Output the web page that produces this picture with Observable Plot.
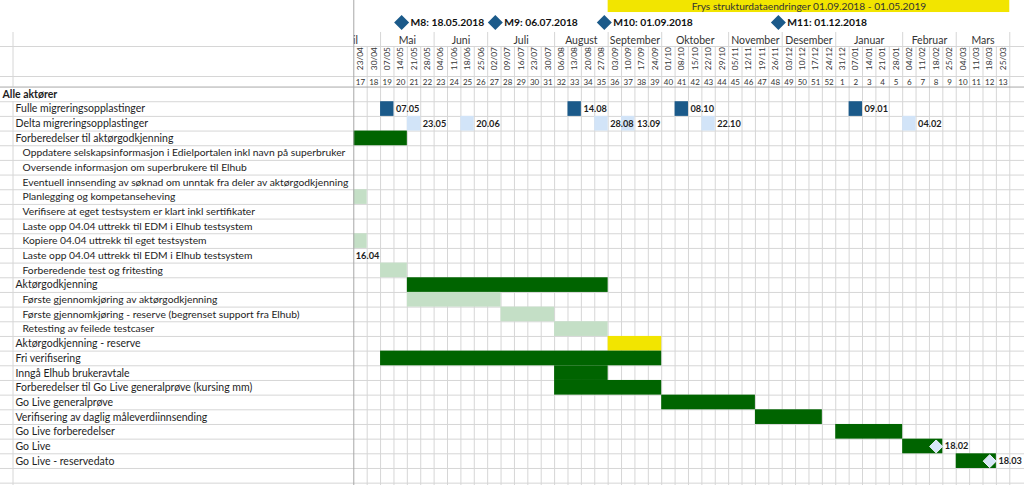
<!DOCTYPE html>
<html><head><meta charset="utf-8">
<script src="https://cdn.jsdelivr.net/npm/d3@7"></script>
<script src="https://cdn.jsdelivr.net/npm/@observablehq/plot@0.6"></script>
<style>html,body{margin:0;padding:0;background:#fff;overflow:hidden} svg{display:block}</style>
</head><body><div id="chart"></div>
<script>
// ---------- DATA ----------
const weekDates = ["23/04","30/04","07/05","14/05","21/05","28/05","04/06","11/06","18/06","25/06",
  "02/07","09/07","16/07","23/07","30/07","06/08","13/08","20/08","27/08","03/09","10/09","17/09","24/09",
  "01/10","08/10","15/10","22/10","29/10","05/11","12/11","19/11","26/11","03/12","10/12","17/12","24/12",
  "31/12","07/01","14/01","21/01","28/01","04/02","11/02","18/02","25/02","04/03","11/03","18/03","25/03"];
const weekNumbers = [17,18,19,20,21,22,23,24,25,26,27,28,29,30,31,32,33,34,35,36,37,38,39,40,41,42,43,44,45,46,47,48,49,50,51,52,1,2,3,4,5,6,7,8,9,10,11,12,13];
const monthNames = ["April","Mai","Juni","Juli","August","September","Oktober","November","Desember","Januar","Februar","Mars"];
const monthWeeks = [5,4,4,5,4,4,5,4,4,5,4,4];   // weeks per month, April starts 3 weeks before the first column
const firstMonday = "2018-04-23";

const taskNames = [
  "Alle aktører",
  "Fulle migreringsopplastinger",
  "Delta migreringsopplastinger",
  "Forberedelser til aktørgodkjenning",
  "Oppdatere selskapsinformasjon i Edielportalen inkl navn på superbruker",
  "Oversende informasjon om superbrukere til Elhub",
  "Eventuell innsending av søknad om unntak fra deler av aktørgodkjenning",
  "Planlegging og kompetanseheving",
  "Verifisere at eget testsystem er klart inkl sertifikater",
  "Laste opp 04.04 uttrekk til EDM i Elhub testsystem",
  "Kopiere 04.04 uttrekk til eget testsystem",
  "Laste opp 04.04 uttrekk til EDM i Elhub testsystem",
  "Forberedende test og fritesting",
  "Aktørgodkjenning",
  "Første gjennomkjøring av aktørgodkjenning",
  "Første gjennomkjøring - reserve (begrenset support fra Elhub)",
  "Retesting av feilede testcaser",
  "Aktørgodkjenning - reserve",
  "Fri verifisering",
  "Inngå Elhub brukeravtale",
  "Forberedelser til Go Live generalprøve (kursing mm)",
  "Go Live generalprøve",
  "Verifisering av daglig måleverdiinnsending",
  "Go Live forberedelser",
  "Go Live",
  "Go Live - reservedato"
];
const taskLevels = [0,1,1,1,2,2,2,2,2,2,2,2,2,1,2,2,2,1,1,1,1,1,1,1,1,1];

// bars: task row, first week, number of weeks, kind
const bars = [
  {row: 3,  start: "23/04", weeks: 4,  kind: "phase"},
  {row: 7,  start: "23/04", weeks: 1,  kind: "activity"},
  {row: 10, start: "23/04", weeks: 1,  kind: "activity"},
  {row: 12, start: "07/05", weeks: 2,  kind: "activity"},
  {row: 13, start: "21/05", weeks: 15, kind: "phase"},
  {row: 14, start: "21/05", weeks: 7,  kind: "activity"},
  {row: 15, start: "09/07", weeks: 4,  kind: "activity"},
  {row: 16, start: "06/08", weeks: 4,  kind: "activity"},
  {row: 17, start: "03/09", weeks: 4,  kind: "reserve"},
  {row: 18, start: "07/05", weeks: 21, kind: "phase"},
  {row: 19, start: "06/08", weeks: 4,  kind: "phase"},
  {row: 20, start: "06/08", weeks: 8,  kind: "phase"},
  {row: 21, start: "01/10", weeks: 7,  kind: "phase"},
  {row: 22, start: "19/11", weeks: 5,  kind: "phase"},
  {row: 23, start: "31/12", weeks: 5,  kind: "phase"},
  {row: 24, start: "04/02", weeks: 3,  kind: "phase"},
  {row: 25, start: "04/03", weeks: 3,  kind: "phase"}
];
const fullUploads = [
  {week: "07/05", label: "07.05"}, {week: "13/08", label: "14.08"},
  {week: "08/10", label: "08.10"}, {week: "07/01", label: "09.01"}
];
const deltaUploads = [
  {week: "21/05", label: "23.05"}, {week: "18/06", label: "20.06"}, {week: "27/08", label: "28.08"},
  {week: "10/09", label: "13.09"}, {week: "22/10", label: "22.10"}, {week: "04/02", label: "04.02"}
];
const goLiveDates = [
  {row: 24, week: "18/02", label: "18.02"},
  {row: 25, week: "18/03", label: "18.03"}
];
const startNotes = [{row: 11, label: "16.04"}];
const headerMilestones = [
  {name: "M8", date: "18.05.2018"}, {name: "M9", date: "06.07.2018"},
  {name: "M10", date: "01.09.2018"}, {name: "M11", date: "01.12.2018"}
];
const freeze = {label: "Frys strukturdataendringer 01.09.2018 - 01.05.2019", from: "03/09"};

// ---------- LAYOUT ----------
const LEFT = -26.39, RIGHT = 50.1;
const NCOL = weekDates.length;
const H = {top: -5.9, bannerBottom: -5.08, milestone: -4.4, monthTop: -3.72, monthMid: -3.17,
           dateTop: -2.764, dateBase: -1.15, weekTop: -0.72, weekMid: -0.344, bottom: 27.16};
const wi = w => weekDates.indexOf(w);
const parseDMY = d3.timeParse("%d.%m.%Y");
const t0 = d3.timeParse("%Y-%m-%d")(firstMonday);
const dayIndex = s => d3.timeDay.count(t0, parseDMY(s)) / 7;
let acc = -3;
const monthCells = monthNames.map((name, i) => { const c = {name, x1: acc, x2: acc + monthWeeks[i]}; acc += monthWeeks[i]; return c; });
const tasks = taskNames.map((name, i) => ({name, level: taskLevels[i], row: i}));
const diamond = {draw(ctx, size) { const r = Math.sqrt(size / Math.PI); ctx.moveTo(0, -r); ctx.lineTo(r, 0); ctx.lineTo(0, r); ctx.lineTo(-r, 0); ctx.closePath(); }};

const FONT = "Lato, 'Liberation Sans', sans-serif";
const grid = "#d6d6d6";
const txt = "#1e1e1e";

const chart = Plot.plot({
  width: 1024, height: 485, margin: 0,
  x: {domain: [LEFT, RIGHT], range: [0, 1024], axis: null},
  y: {domain: [H.top, H.bottom], range: [0, 485], axis: null},
  color: {domain: ["phase", "activity", "reserve", "full", "delta"],
          range: ["#006400", "#c4dfc6", "#f2e500", "#1b5a8a", "#d2e4f8"]},
  style: {fontFamily: FONT, background: "#fff", color: txt},
  marks: [
    // freeze banner
    Plot.rect([freeze], {x1: d => wi(d.from), x2: NCOL, y1: H.top, y2: H.bannerBottom, fill: "#f2e500"}),
    Plot.text([freeze], {x: d => (wi(d.from) + NCOL) / 2, y: (H.top + H.bannerBottom) / 2, text: "label", fontSize: 10.2, fill: "#333"}),
    // header milestones
    Plot.dot(headerMilestones, {x: d => dayIndex(d.date), y: H.milestone, symbol: diamond, r: 7.5, fill: "#1b5a8a"}),
    Plot.text(headerMilestones, {x: d => dayIndex(d.date), y: H.milestone, dx: 9, text: d => `${d.name}: ${d.date}`, textAnchor: "start", fontWeight: "bold", fontSize: 10.3, fill: "#111"}),
    // months
    Plot.text(monthCells, {x: d => (d.x1 + d.x2) / 2, y: H.monthMid, text: "name", fontSize: 10.5, fill: "#333"}),
    Plot.rect([0], {x1: LEFT, x2: 0, y1: H.top, y2: 0, fill: "#fff"}),
    // grid
    Plot.ruleX(monthCells.slice(1).map(d => d.x1).concat([NCOL]), {y1: H.monthTop, y2: H.dateTop, stroke: grid}),
    Plot.ruleX(d3.range(1, NCOL + 1), {y1: H.dateTop, y2: H.bottom, stroke: grid}),
    Plot.ruleY([H.dateTop, H.weekTop, ...d3.range(1, 28)], {x1: LEFT, x2: RIGHT, stroke: grid}),
    Plot.ruleX([LEFT], {dx: 12.5, y1: H.monthTop, y2: 0, stroke: grid}),
    Plot.ruleX([LEFT], {dx: 12.5, y1: 1, y2: H.bottom, stroke: grid}),
    // week header
    Plot.text(weekDates, {x: (d, i) => i + 0.5, y: H.dateBase, text: d => d, rotate: -90, textAnchor: "start", lineAnchor: "middle", fontSize: 8.3, fill: "#333"}),
    Plot.text(weekNumbers, {x: (d, i) => i + 0.5, y: H.weekMid, text: d => String(d), fontSize: 8, fill: "#333"}),
    // bars
    Plot.rect(bars, {x1: d => wi(d.start), x2: d => wi(d.start) + d.weeks, y1: "row", y2: d => d.row + 1, fill: "kind"}),
    Plot.rect(fullUploads, {x1: d => wi(d.week), x2: d => wi(d.week) + 1, y1: 1, y2: 2, fill: () => "full"}),
    Plot.rect(deltaUploads, {x1: d => wi(d.week), x2: d => wi(d.week) + 1, y1: 2, y2: 3, fill: () => "delta"}),
    Plot.ruleY([0], {x1: LEFT, x2: RIGHT, stroke: "#a8a8a8"}),
    Plot.ruleX([0], {y1: H.top, y2: H.bottom, stroke: "#a8a8a8"}),
    // labels
    Plot.text(fullUploads, {x: d => wi(d.week) + 1, y: 1.5, dx: 2, text: "label", textAnchor: "start", fontWeight: "bold", fontSize: 9.2, fill: txt}),
    Plot.text(deltaUploads, {x: d => wi(d.week) + 1, y: 2.5, dx: 2, text: "label", textAnchor: "start", fontWeight: "bold", fontSize: 9.2, fill: txt}),
    Plot.text(startNotes, {x: 0, y: d => d.row + 0.5, dx: 2, text: "label", textAnchor: "start", fontWeight: "bold", fontSize: 9.2, fill: txt}),
    Plot.dot(goLiveDates, {x: d => wi(d.week) + 0.5, y: d => d.row + 0.5, symbol: diamond, r: 6.5, fill: "#d8e7f8", stroke: "#eef5fd", strokeWidth: 1}),
    Plot.text(goLiveDates, {x: d => wi(d.week) + 1, y: d => d.row + 0.5, dx: 2, text: "label", textAnchor: "start", fontWeight: "bold", fontSize: 9.2, fill: txt}),
    // task names
    Plot.text(tasks, {filter: d => d.level === 0, x: LEFT, y: d => d.row + 0.5, dx: 2, text: "name", textAnchor: "start", fontWeight: "bold", fontSize: 10.5, fill: txt}),
    Plot.text(tasks, {filter: d => d.level === 1, x: LEFT, y: d => d.row + 0.5, dx: 15, text: "name", textAnchor: "start", fontSize: 10.5, fill: txt}),
    Plot.text(tasks, {filter: d => d.level === 2, x: LEFT, y: d => d.row + 0.5, dx: 22, text: "name", textAnchor: "start", fontSize: 10.3, fill: txt})
  ]
});
document.getElementById("chart").appendChild(chart);
</script>
</body></html>
